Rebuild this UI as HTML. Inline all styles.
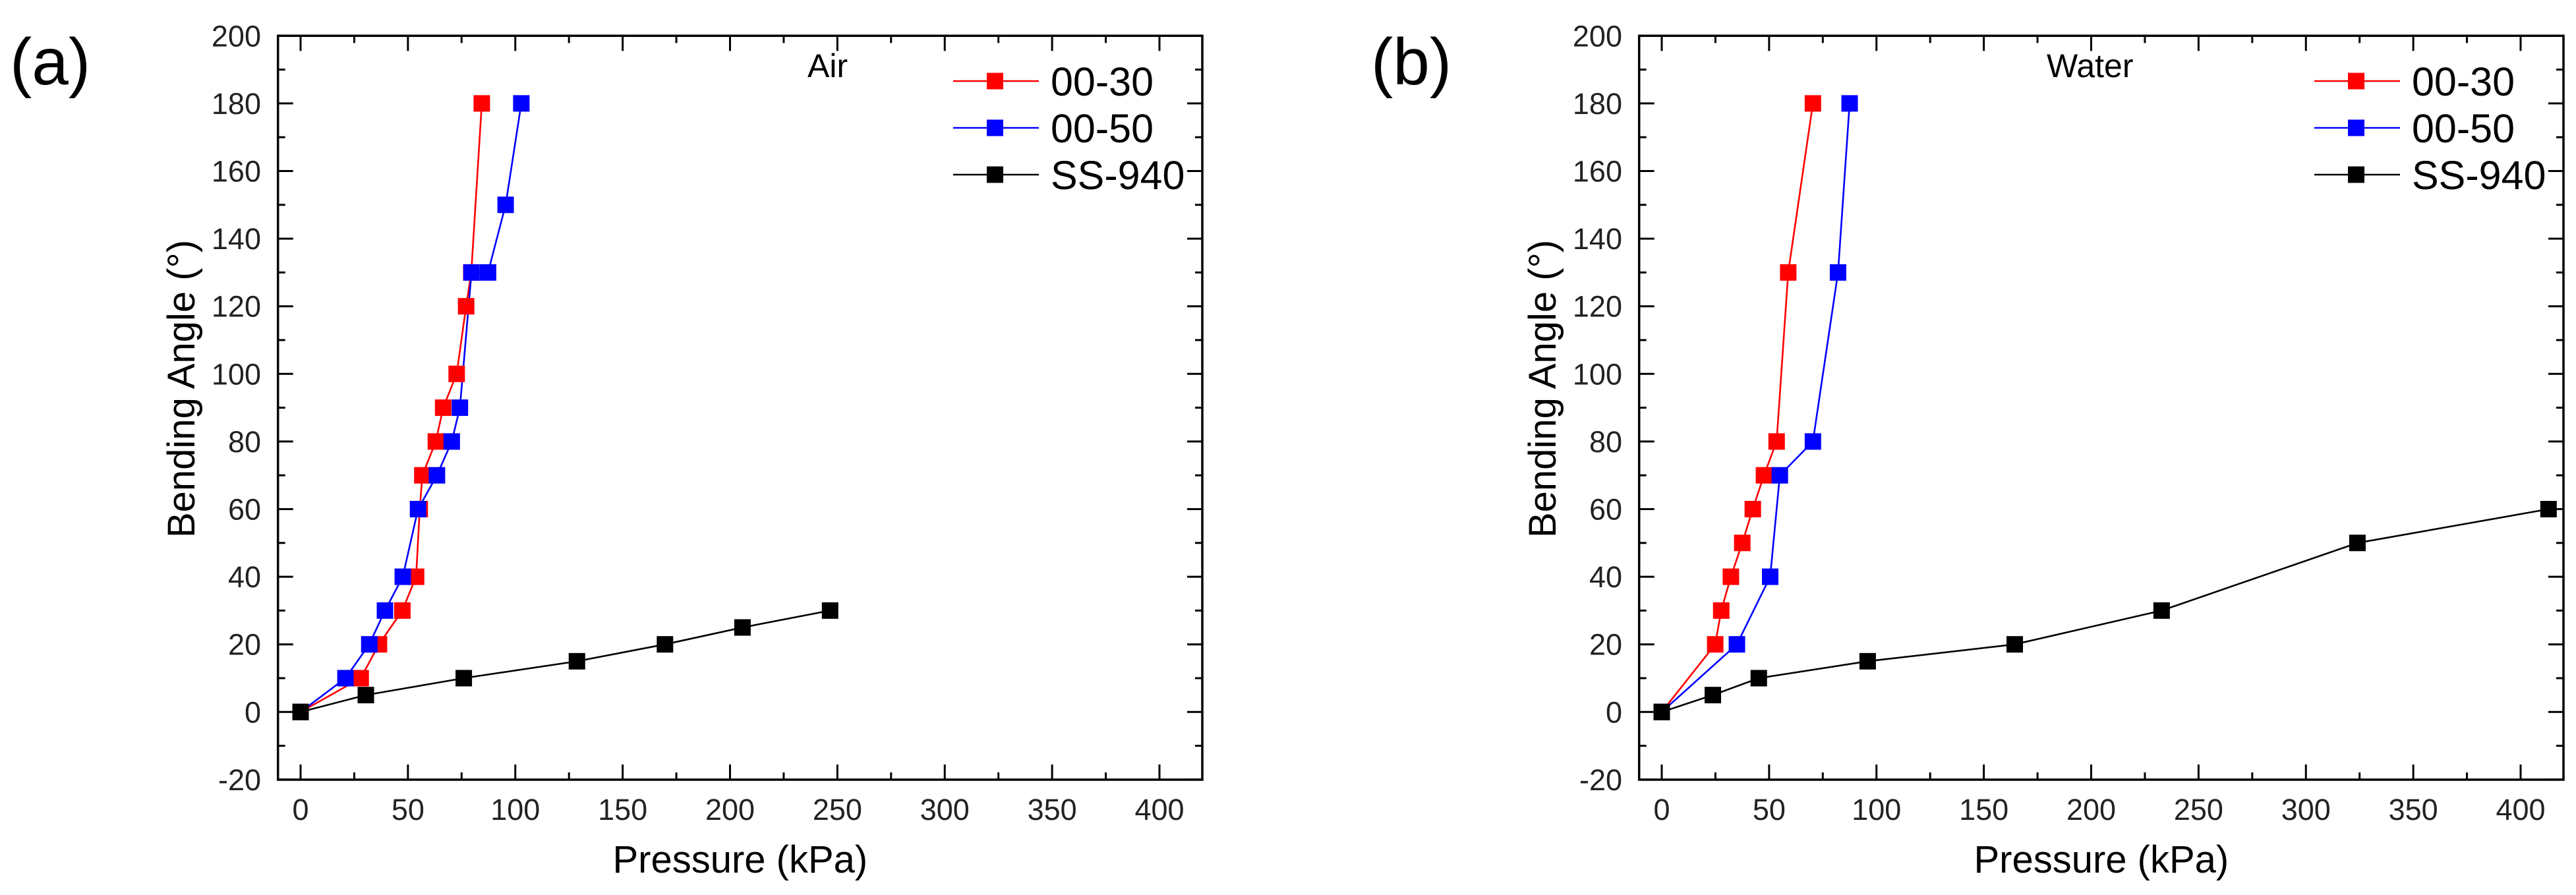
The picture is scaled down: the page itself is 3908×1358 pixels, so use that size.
<!DOCTYPE html>
<html><head><meta charset="utf-8">
<style>
html,body{margin:0;padding:0;background:#fff;}
svg{display:block;font-family:"Liberation Sans",Arial,sans-serif;}
</style></head>
<body>
<svg id="fig" width="3908" height="1358" viewBox="0 0 3908 1358" xmlns="http://www.w3.org/2000/svg"></svg>
<script>
// Panel (a) Air data
const airRedX = [0, 28, 36.5, 47.4, 53.8, 55.5, 56.7, 63, 66.4, 72.7, 77.1, 79.5, 84.4];
const airRedY = [0, 10, 20, 30, 40, 60, 70, 80, 90, 100, 120, 130, 180];
const airBlueX = [0, 20.9, 32, 39.3, 47.6, 54.7, 63.5, 70.4, 74.2, 79.6, 87.3, 95.5, 102.8];
const airBlueY = [0, 10, 20, 30, 40, 60, 70, 80, 90, 130, 130, 150, 180];
const airBlackX = [0, 30.4, 76, 128.7, 169.7, 205.8, 246.6];
const airBlackY = [0, 5, 10, 15, 20, 25, 30];
// Panel (b) Water data
const waterRedX = [0, 24.9, 27.7, 32.2, 37.5, 42.4, 47.6, 53.5, 58.9, 70.4];
const waterRedY = [0, 20, 30, 40, 50, 60, 70, 80, 130, 180];
const waterBlueX = [0, 35, 50.5, 55, 70.4, 82.1, 87.5];
const waterBlueY = [0, 20, 40, 70, 80, 130, 180];
const waterBlackX = [0, 23.8, 45.2, 95.9, 164.4, 232.8, 324, 413];
const waterBlackY = [0, 5, 10, 15, 20, 30, 50, 60];
// Axis ticks
const xTickLabels = [0, 50, 100, 150, 200, 250, 300, 350, 400];
const yTickLabels = [-20, 0, 20, 40, 60, 80, 100, 120, 140, 160, 180, 200];
const legendLabels = ["00-30", "00-50", "SS-940"];

const NS = "http://www.w3.org/2000/svg";
const svg = document.getElementById("fig");
function mk(tag, attrs, parent) {
  const e = document.createElementNS(NS, tag);
  for (const k in attrs) e.setAttribute(k, attrs[k]);
  (parent || svg).appendChild(e);
  return e;
}

function panel(off, letter, medium, mediumX, series) {
  const L = 421.7 + off, R = 1824 + off, T = 54.3, B = 1183;
  const x0 = 456 + off, kx = 3.2575;
  const y0 = 1080.3, ky = 5.13;
  const sx = v => x0 + v * kx;
  const sy = v => y0 - v * ky;
  const g = mk("g", {});
  
  

  const lab = mk("text", {x: 15 + off, y: 128, "font-size": 100, fill: "#000"}, g);
  lab.textContent = "(" + letter + ")";
  
  

  const frame = mk("rect", {x: L, y: T, width: R - L, height: B - T, fill: "none", stroke: "#000", "stroke-width": 3.5}, g);
  
  

  for (let v = 0; v <= 400; v += 25) {
    const major = v % 50 === 0;
    const len = major ? 23 : 11;
    const xx = sx(v);
    const t1 = mk("line", {x1: xx, x2: xx, y1: B, y2: B - len, stroke: "#000", "stroke-width": 3}, g);
    
    
    const t2 = mk("line", {x1: xx, x2: xx, y1: T, y2: T + len, stroke: "#000", "stroke-width": 3}, g);
    
    
  }
  xTickLabels.forEach(v => {
    const t = mk("text", {x: sx(v), y: 1244, "font-size": 45, "text-anchor": "middle", fill: "#222"}, g);
    t.textContent = v;
    
    
  });
  for (let v = -20; v <= 200; v += 10) {
    const major = v % 20 === 0;
    const len = major ? 23 : 11;
    const yy = sy(v);
    const t1 = mk("line", {x1: L, x2: L + len, y1: yy, y2: yy, stroke: "#000", "stroke-width": 3}, g);
    
    
    const t2 = mk("line", {x1: R, x2: R - len, y1: yy, y2: yy, stroke: "#000", "stroke-width": 3}, g);
    
    
  }
  yTickLabels.forEach(v => {
    const t = mk("text", {x: 396 + off, y: sy(v) + 16, "font-size": 45, "text-anchor": "end", fill: "#222"}, g);
    t.textContent = v;
    
    
  });
  const xt = mk("text", {x: (L + R) / 2, y: 1324, "font-size": 58, "text-anchor": "middle", fill: "#000"}, g);
  xt.textContent = "Pressure (kPa)";
  
  
  const yt = mk("text", {x: 0, y: 0, "font-size": 58, "text-anchor": "middle", fill: "#000", transform: "translate(" + (295 + off) + "," + 590 + ") rotate(-90)"}, g);
  yt.textContent = "Bending Angle (°)";
  
  
  const md = mk("text", {x: mediumX, y: 117, "font-size": 50, fill: "#000"}, g);
  md.textContent = medium;
  
  

  const colors = ["#ff0000", "#0000ff", "#000000"];
  series.forEach((s, i) => {
    const pts = s[0].map((xv, j) => sx(xv) + "," + sy(s[1][j])).join(" ");
    const pl = mk("polyline", {points: pts, fill: "none", stroke: colors[i], "stroke-width": 2.6}, g);
    
    
  });
  series.forEach((s, i) => {
    s[0].forEach((xv, j) => {
      const r = mk("rect", {x: sx(xv) - 12.5, y: sy(s[1][j]) - 12.5, width: 25, height: 25, fill: colors[i]}, g);
      
      
    });
  });

  const rows = [123, 194, 265];
  legendLabels.forEach((name, i) => {
    const lg = mk("g", {}, g);
    
    
    mk("line", {x1: 1446 + off, x2: 1576 + off, y1: rows[i], y2: rows[i], stroke: colors[i], "stroke-width": 2.6}, lg);
    mk("rect", {x: 1497 + off, y: rows[i] - 12.5, width: 25, height: 25, fill: colors[i]}, lg);
    const t = mk("text", {x: 1594 + off, y: rows[i] + 22, "font-size": 61, fill: "#000"}, lg);
    t.textContent = name;
  });
}

panel(0, "a", "Air", 1225, [[airRedX, airRedY], [airBlueX, airBlueY], [airBlackX, airBlackY]]);
panel(2065, "b", "Water", 3105, [[waterRedX, waterRedY], [waterBlueX, waterBlueY], [waterBlackX, waterBlackY]]);
</script>
</body></html>
